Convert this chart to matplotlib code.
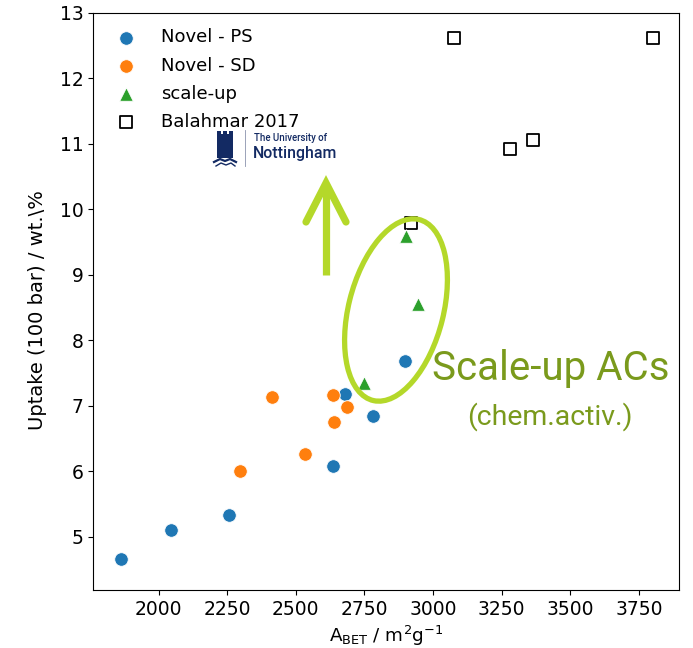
import matplotlib
matplotlib.use("Agg")
import matplotlib.pyplot as plt
from matplotlib.patches import Ellipse, Polygon
from matplotlib.lines import Line2D

# Data
ps_x = [1862, 2044, 2255, 2634, 2678, 2781, 2898]
ps_y = [4.66, 5.10, 5.34, 6.09, 7.19, 6.85, 7.68]
sd_x = [2295, 2412, 2532, 2634, 2638, 2686]
sd_y = [6.01, 7.13, 6.27, 7.17, 6.75, 6.99]
su_x = [2750, 2900, 2944]
su_y = [7.35, 9.59, 8.56]
bal_x = [2918, 3075, 3280, 3363, 3800]
bal_y = [9.79, 12.62, 10.93, 11.06, 12.62]
labels = ["Novel - PS", "Novel - SD", "scale-up", "Balahmar 2017"]
xticks = [2000, 2250, 2500, 2750, 3000, 3250, 3500, 3750]
yticks = [5, 6, 7, 8, 9, 10, 11, 12, 13]

W, H = 693, 648
fig = plt.figure(figsize=(W/100, H/100), dpi=100)
ax = fig.add_axes([93/W, 1-590/H, (679-93)/W, (590-13)/H])

ax.scatter(ps_x, ps_y, s=95, color="#1f77b4", edgecolors="white", linewidths=0.6, label=labels[0], zorder=3)
ax.scatter(sd_x, sd_y, s=95, color="#ff7f0e", edgecolors="white", linewidths=0.6, label=labels[1], zorder=3)
ax.scatter(su_x, su_y, s=95, marker="^", color="#2ca02c", edgecolors="white", linewidths=0.6, label=labels[2], zorder=3)
ax.scatter(bal_x, bal_y, s=80, marker="s", facecolors="white", edgecolors="black", linewidths=1.3, label=labels[3], zorder=2)

ax.set_xticks(xticks)
ax.set_yticks(yticks)
ax.set_xlim(1761, 3896)
ax.set_ylim(4.19, 13.0)
ax.tick_params(labelsize=13.5)
ax.set_xlabel(r"A$_{\rm BET}$ / m$^2$g$^{-1}$", fontsize=13.2)
ax.set_ylabel(r"Uptake (100 bar) / wt.\%", fontsize=14)
ax.yaxis.set_label_coords(-0.078, 0.485)

ax.legend(loc="upper left", frameon=False, fontsize=13, handletextpad=0.9,
          labelspacing=0.57, borderaxespad=0.45, bbox_to_anchor=(0.0, 1.0))

def fx(px):
    return px / W
def fy(py):
    return 1 - py / H

green = "#b4d82a"
olive = "#7a9a1c"

# Arrow (open chevron head)
fig.add_artist(Line2D([fx(326), fx(326)], [fy(275), fy(184)], transform=fig.transFigure,
                      color=green, lw=5.2, solid_capstyle="butt"))
fig.add_artist(Line2D([fx(306), fx(326), fx(346)], [fy(222), fy(183), fy(222)], transform=fig.transFigure,
                      color=green, lw=5.2, solid_capstyle="round", solid_joinstyle="miter"))

ell = Ellipse((fx(396), fy(310)), width=95/W, height=186/H, angle=-13,
              transform=fig.transFigure, fill=False, edgecolor=green, lw=3.8)
fig.add_artist(ell)

fig.text(fx(551), fy(368), "Scale-up ACs", fontsize=29, color=olive,
         family=["Liberation Sans Narrow", "DejaVu Sans Condensed", "Roboto"], ha="center", va="center")
fig.text(fx(550), fy(417), "(chem.activ.)", fontsize=20.5, color=olive,
         family=["Liberation Sans Narrow", "DejaVu Sans Condensed", "Roboto"], ha="center", va="center")

# Nottingham logo (approximation)
navy = "#132a63"
castle = [(217, 158), (217, 131), (221, 131), (221, 134), (223, 134), (223, 131), (227, 131),
          (227, 134), (229, 134), (229, 131), (233, 131), (233, 158)]
fig.add_artist(Polygon([[fx(a), fy(b)] for a, b in castle], closed=True,
                       transform=fig.transFigure, color=navy, lw=0))
fig.add_artist(Line2D([fx(214), fx(220), fx(225), fx(230), fx(236)],
                      [fy(162), fy(159), fy(161), fy(159), fy(162)],
                      transform=fig.transFigure, color=navy, lw=1.6))
fig.add_artist(Line2D([fx(216), fx(221), fx(226), fx(231), fx(235)],
                      [fy(166), fy(163), fy(165), fy(163), fy(166)],
                      transform=fig.transFigure, color=navy, lw=1.0))
fig.add_artist(Line2D([fx(245), fx(245)], [fy(130), fy(166)], transform=fig.transFigure,
                      color="#8a93ad", lw=0.6))
fig.text(fx(254), fy(138), "The University of", fontsize=6.9, color=navy, family="Roboto",
         ha="left", va="center", weight="medium")
fig.text(fx(253), fy(154), "Nottingham", fontsize=11.4, color=navy, family="Roboto",
         ha="left", va="center", weight="medium")

fig.savefig("out.png", dpi=100)
